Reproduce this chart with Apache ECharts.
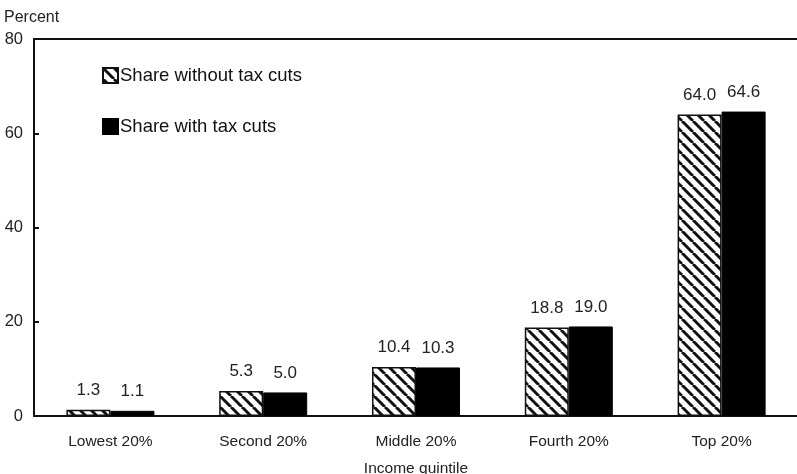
<!DOCTYPE html>
<html><head><meta charset="utf-8">
<script src="https://cdn.jsdelivr.net/npm/echarts@6/dist/echarts.min.js"></script>
<style>html,body{margin:0;padding:0;background:#fff}#c{width:797px;height:474px}</style>
</head><body><div id="c"></div>
<script>
const categories = ['Lowest 20%', 'Second 20%', 'Middle 20%', 'Fourth 20%', 'Top 20%'];
const withoutCuts = [1.3, 5.3, 10.4, 18.8, 64.0];
const withCuts = [1.1, 5.0, 10.3, 19.0, 64.6];
const yTicks = [0, 20, 40, 60, 80];

function hatch() {
  const s = 11;
  const c = document.createElement('canvas');
  c.width = s; c.height = s;
  const g = c.getContext('2d');
  g.fillStyle = '#fff'; g.fillRect(0, 0, s, s);
  g.strokeStyle = '#111'; g.lineWidth = 3;
  for (const o of [-s, 0, s]) {
    g.beginPath(); g.moveTo(o, 0); g.lineTo(o + s, s); g.stroke();
  }
  return c;
}
const pat = { image: hatch(), repeat: 'repeat' };
const font = 'Liberation Sans, Arial, sans-serif';
const chart = echarts.init(document.getElementById('c'), null, { renderer: 'canvas' });
chart.setOption({
  animation: false,
  textStyle: { fontFamily: font },
  grid: { left: 34, right: -1, top: 39, bottom: 58, containLabel: false, outerBoundsMode: 'none' },
  legend: {
    orient: 'vertical', left: 102, top: 66, padding: 0, itemWidth: 15, itemHeight: 15, itemGap: 32,
    icon: 'rect',
    textStyle: { fontSize: 18.5, lineHeight: 15, color: '#111', fontFamily: font, padding: [0, 0, 0, -3] },
    data: ['Share without tax cuts', 'Share with tax cuts']
  },
  xAxis: [{
    type: 'category', data: categories,
    axisLine: { lineStyle: { color: '#111', width: 2 } },
    axisTick: { show: false },
    axisLabel: { fontSize: 15.5, color: '#222', margin: 18, fontFamily: font },
    name: 'Income quintile', nameLocation: 'middle', nameGap: 45,
    nameTextStyle: { fontSize: 15.5, color: '#222', fontFamily: font }
  }, {
    type: 'category', position: 'top', data: categories,
    axisLine: { lineStyle: { color: '#111', width: 2 } },
    axisTick: { show: false }, axisLabel: { show: false }
  }],
  yAxis: {
    type: 'value', min: yTicks[0], max: yTicks[yTicks.length - 1], interval: 20,
    axisLine: { show: true, lineStyle: { color: '#111', width: 2 } },
    axisTick: { show: true, inside: true, length: 5, lineStyle: { color: '#111', width: 2 } },
    splitLine: { show: false },
    axisLabel: { fontSize: 16.5, color: '#222', margin: 11, fontFamily: font },
    name: 'Percent', nameLocation: 'end', nameGap: 13,
    nameTextStyle: { fontSize: 16, color: '#222', align: 'left', padding: [0, 0, 0, -30], fontFamily: font }
  },
  series: [{
    name: 'Share without tax cuts', type: 'bar', data: withoutCuts,
    barWidth: '28.8%', barGap: '0%',
    itemStyle: { color: pat, borderColor: '#111', borderWidth: 1.5 },
    label: { show: true, position: 'top', distance: 11, fontSize: 17, color: '#222', fontFamily: font,
      formatter: p => p.value.toFixed(1) }
  }, {
    name: 'Share with tax cuts', type: 'bar', data: withCuts,
    barWidth: '28.8%', barGap: '0%',
    itemStyle: { color: '#000', borderColor: '#000', borderWidth: 1 },
    label: { show: true, position: 'top', distance: 11, fontSize: 17, color: '#222', fontFamily: font,
      formatter: p => p.value.toFixed(1) }
  }]
});
</script></body></html>
